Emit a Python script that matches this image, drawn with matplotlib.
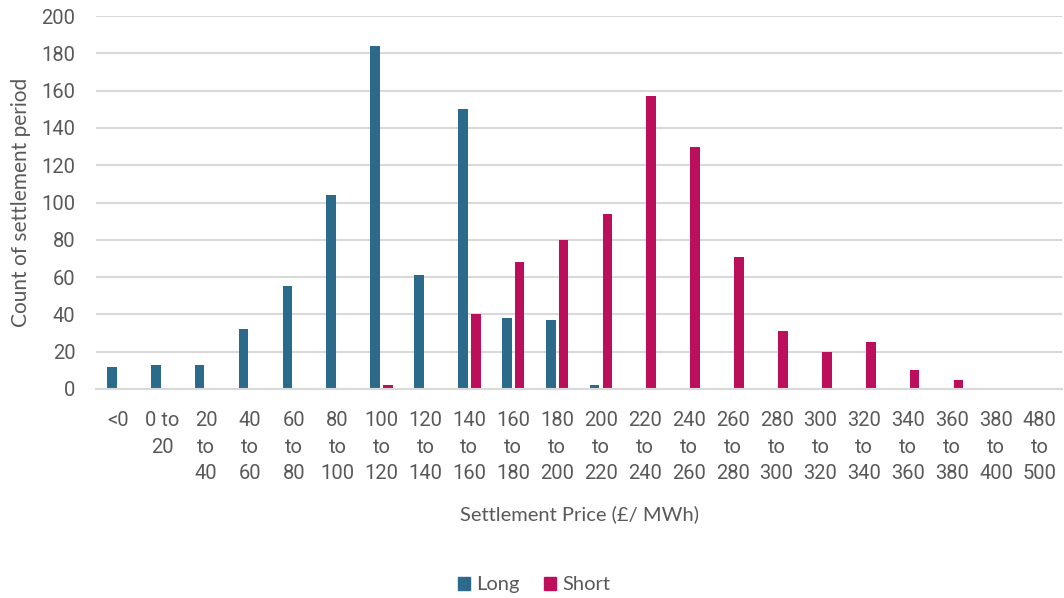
import numpy as np
import matplotlib.pyplot as plt
from matplotlib.patches import Patch

# numbers in Roboto, titles and legend in Lato
plt.rcParams['font.family'] = ['Roboto', 'DejaVu Sans']
LABEL_FONT = ['Lato', 'DejaVu Sans']

# price bands (wrapped as the axis shows them)
categories = ["<0", "0 to\n20", "20\nto\n40", "40\nto\n60", "60\nto\n80", "80\nto\n100",
              "100\nto\n120", "120\nto\n140", "140\nto\n160", "160\nto\n180", "180\nto\n200",
              "200\nto\n220", "220\nto\n240", "240\nto\n260", "260\nto\n280", "280\nto\n300",
              "300\nto\n320", "320\nto\n340", "340\nto\n360", "360\nto\n380", "380\nto\n400",
              "480\nto\n500"]
long_counts = [12, 13, 13, 32, 55, 104, 184, 61, 150, 38, 37, 2,
               0, 0, 0, 0, 0, 0, 0, 0, 0, 0]
short_counts = [0, 0, 0, 0, 0, 0, 2, 0.5, 40, 68, 80, 94,
                157, 130, 71, 31, 20, 25, 10, 5, 0.5, 0.5]

LONG_COLOR = '#2b6a8b'
SHORT_COLOR = '#bc0f5b'
TEXT_COLOR = '#595959'
GRID_COLOR = '#d9d9d9'

fig = plt.figure(figsize=(10.64, 5.98), dpi=100)
ax = fig.add_axes([0.0905, 0.3495, 0.9075, 0.6237])

x = np.arange(len(categories))
bw = 0.22
ax.bar(x - 0.145, long_counts, bw, color=LONG_COLOR, zorder=3)
ax.bar(x + 0.145, short_counts, bw, color=SHORT_COLOR, zorder=3)

ax.set_xlim(-0.5, len(categories) - 0.5)
ax.set_ylim(0, 200)
ax.set_yticks(range(0, 201, 20))
ax.set_xticks(x)
ax.set_xticklabels(categories, linespacing=1.5, va='top')

ax.grid(axis='y', color=GRID_COLOR, lw=1.5, zorder=0)
for s in ['top', 'right', 'left']:
    ax.spines[s].set_visible(False)
ax.spines['bottom'].set_color(GRID_COLOR)
ax.spines['bottom'].set_linewidth(1.5)
ax.spines['bottom'].set_zorder(4)

ax.tick_params(axis='both', length=0, colors=TEXT_COLOR, labelsize=14.5)
ax.tick_params(axis='y', pad=15)
ax.tick_params(axis='x', pad=16)

ax.set_xlabel("Settlement Price (£/ MWh)", color=TEXT_COLOR, fontsize=14.5,
              labelpad=16, family=LABEL_FONT)
ax.set_ylabel("Count of settlement period", color=TEXT_COLOR, fontsize=15,
              labelpad=10, family=LABEL_FONT)
ax.yaxis.set_label_coords(-0.068, 0.5)

handles = [Patch(color=LONG_COLOR, label='Long'), Patch(color=SHORT_COLOR, label='Short')]
fig.legend(handles=handles, loc='center', bbox_to_anchor=(0.502, 0.022), ncol=2,
           frameon=False, prop={'family': LABEL_FONT, 'size': 14.5},
           handlelength=0.6, handleheight=0.6,
           handletextpad=0.3, columnspacing=1.2, labelcolor=TEXT_COLOR)

fig.savefig('out.png', dpi=100, facecolor='white')
